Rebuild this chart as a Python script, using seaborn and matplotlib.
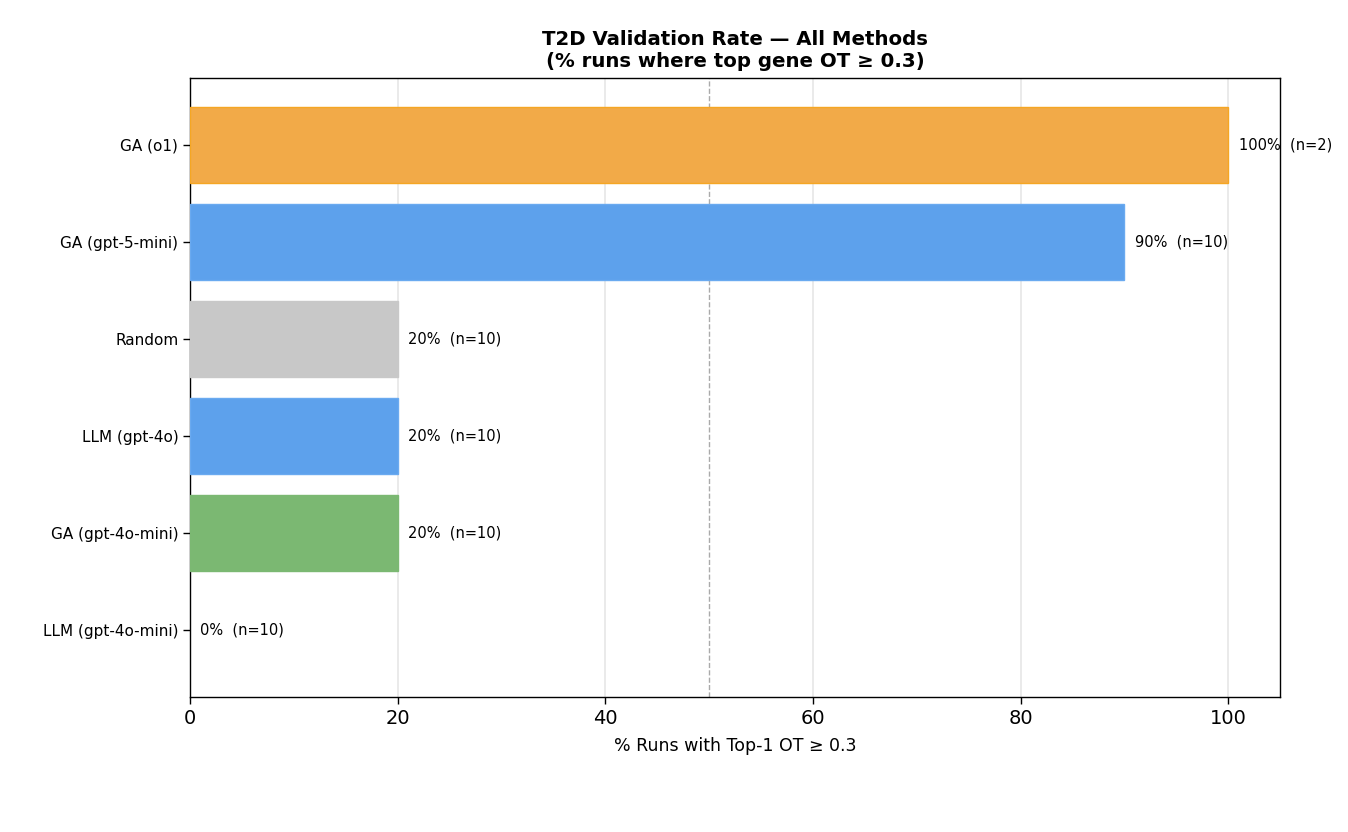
import pandas as pd
import matplotlib
matplotlib.use('Agg')
import matplotlib.pyplot as plt
import seaborn as sns

# 데이터
methods = ['GA (o1)', 'GA (gpt-5-mini)', 'Random', 'LLM (gpt-4o)', 'GA (gpt-4o-mini)', 'LLM (gpt-4o-mini)']
rates = [100, 90, 20, 20, 20, 0]
n_runs = [2, 10, 10, 10, 10, 10]
bar_colors = ['#F2AA48', '#5DA1EC', '#C8C8C8', '#5DA1EC', '#7BB872', '#7BB872']
edge_colors = ['#F5A623', '#6AAAF0', '#C8C8C8', '#6AAAF0', '#7BB872', '#7BB872']

df = pd.DataFrame({'method': methods, 'rate': rates, 'n': n_runs})

sns.set_style('white')
plt.rcParams['font.family'] = ['DejaVu Sans']
plt.rcParams['text.color'] = 'black'
plt.rcParams['axes.labelcolor'] = 'black'
plt.rcParams['xtick.color'] = 'black'
plt.rcParams['ytick.color'] = 'black'

fig = plt.figure(figsize=(13.48, 8.32), dpi=100)
ax = fig.add_axes([0.141, 0.1623, 0.8086, 0.7439])

sns.barplot(data=df, y='method', x='rate', hue='method', palette=bar_colors,
            orient='h', width=0.78, saturation=1, legend=False, ax=ax, zorder=3)
for patch, ec, r in zip(ax.patches, edge_colors, rates):
    patch.set_edgecolor(ec)
    patch.set_linewidth(1.0 if r > 0 else 0)

for i, (r, n) in enumerate(zip(rates, n_runs)):
    ax.text(r + 1, i, f"{r}%  (n={n})", va='center', ha='left', fontsize=10.5, color='black')

ax.axvline(50, color='#AAAAAA', linestyle='--', linewidth=1.0, zorder=1)
ax.set_xlim(0, 105)
ax.set_ylim(5.69, -0.69)
ax.set_xticks([0, 20, 40, 60, 80, 100])
ax.grid(axis='x', color='#E6E6E6', linewidth=1.2, zorder=0)
ax.set_axisbelow(True)
for s in ax.spines.values():
    s.set_color('black')
    s.set_linewidth(1.0)
ax.tick_params(axis='x', labelsize=14, length=5, width=1, bottom=True, color='black')
ax.tick_params(axis='y', labelsize=11, length=5, width=1, left=True, color='black')
ax.set_ylabel('')
ax.set_xlabel('% Runs with Top-1 OT ≥ 0.3', fontsize=12.5, labelpad=7)
ax.set_title('T2D Validation Rate — All Methods\n(% runs where top gene OT ≥ 0.3)',
             fontsize=14.2, fontweight='bold', pad=8)

fig.savefig('out.png', dpi=100)
